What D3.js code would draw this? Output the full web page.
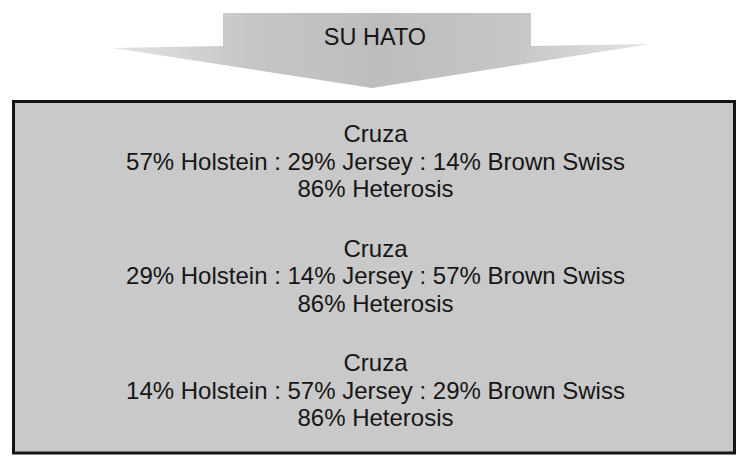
<!DOCTYPE html>
<html>
<head>
<meta charset="utf-8">
<script src="https://cdn.jsdelivr.net/npm/d3@7"></script>
<style>
  html, body { margin: 0; padding: 0; background: #ffffff; }
  svg { display: block; }
</style>
</head>
<body>
<svg id="chart" width="741" height="456"></svg>
<script>
// ---- data ----
const title = "SU HATO";
const blockLabels = ["Cruza", "Cruza", "Cruza"];
const holstein = [57, 29, 14];
const jersey = [29, 14, 57];
const brownSwiss = [14, 57, 29];
const heterosis = [86, 86, 86];

const W = 741, H = 456;
const svg = d3.select("#chart");
const font = "'Liberation Sans', Arial, Helvetica, sans-serif";

// gradient for arrow
const defs = svg.append("defs");
const g1 = defs.append("linearGradient").attr("id", "arrowGrad")
  .attr("x1", "0%").attr("x2", "100%").attr("y1", "0%").attr("y2", "0%");
g1.append("stop").attr("offset", "0%").attr("stop-color", "#e4e4e4");
g1.append("stop").attr("offset", "25%").attr("stop-color", "#c6c6c6");
g1.append("stop").attr("offset", "50%").attr("stop-color", "#bdbdbd");
g1.append("stop").attr("offset", "75%").attr("stop-color", "#c6c6c6");
g1.append("stop").attr("offset", "100%").attr("stop-color", "#e4e4e4");

// arrow shape
const arrowPts = [
  [223, 13], [531, 13], [531, 46], [650, 44], [372, 88], [113, 48], [223, 46]
];
svg.append("path")
  .attr("d", d3.line()(arrowPts))
  .attr("fill", "url(#arrowGrad)");

svg.append("text")
  .attr("x", 375).attr("y", 45)
  .attr("text-anchor", "middle")
  .attr("font-family", font)
  .attr("font-size", 23.5)
  .attr("fill", "#151515")
  .text(title);

// box
svg.append("rect")
  .attr("x", 13.5).attr("y", 101.5)
  .attr("width", 721).attr("height", 351.5)
  .attr("fill", "#c9c9c9")
  .attr("stroke", "#141414")
  .attr("stroke-width", 3);

// blocks
const yBlock = d3.scalePoint().domain(d3.range(blockLabels.length)).range([142, 371]);
const cx = 375.5;
const lineGap = 27.5;

const blocks = svg.append("g").selectAll("g")
  .data(d3.range(blockLabels.length))
  .join("g")
  .attr("transform", i => `translate(${cx},${yBlock(i)})`)
  .attr("font-family", font)
  .attr("font-size", 24)
  .attr("fill", "#161616")
  .attr("text-anchor", "middle");

blocks.append("text").attr("y", 0).text(i => blockLabels[i]);
blocks.append("text").attr("y", lineGap)
  .text(i => `${holstein[i]}% Holstein : ${jersey[i]}% Jersey : ${brownSwiss[i]}% Brown Swiss`);
blocks.append("text").attr("y", lineGap * 2)
  .text(i => `${heterosis[i]}% Heterosis`);
</script>
</body>
</html>
